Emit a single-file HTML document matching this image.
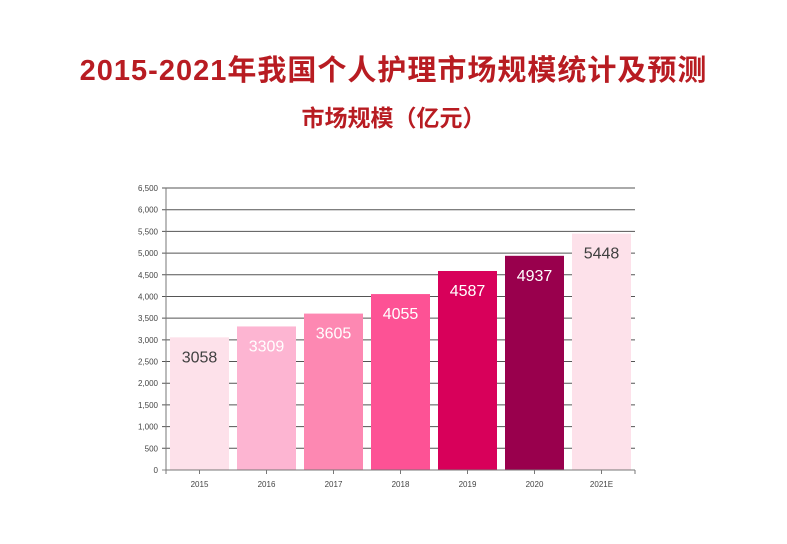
<!DOCTYPE html>
<html><head><meta charset="utf-8"><style>
body{margin:0;width:787px;height:544px;background:#fff;overflow:hidden;font-family:"Liberation Sans","Noto Sans CJK SC",sans-serif}
.t{position:absolute;left:0;width:787px;text-align:center;color:#b81c22;font-weight:bold}
</style></head><body>
<div class="t" style="top:47px;font-size:29px;letter-spacing:1px">2015-2021年我国个人护理市场规模统计及预测</div>
<div class="t" style="top:99px;font-size:23px">市场规模（亿元）</div>
<svg id="c" width="787" height="544" style="position:absolute;left:0;top:0"></svg>
<script>
const categories=["2015","2016","2017","2018","2019","2020","2021E"];
const values=[3058,3309,3605,4055,4587,4937,5448];
const colors=["#fde1ea","#fdb5d2","#fd88b2","#fd5295","#d8005a","#99004d","#fde1ea"];
const labelColors=["#404040","#fff","#fff","#fff","#fff","#fff","#404040"];
const yTicks=[0,500,1000,1500,2000,2500,3000,3500,4000,4500,5000,5500,6000,6500];
const X0=166,X1=635,Y0=470,Y1=188,YMAX=6500;
const band=(X1-X0)/categories.length;
const y=v=>Y0-(v/YMAX)*(Y0-Y1);
const x=i=>X0+i*band;
const svg=document.getElementById('c');
const NS="http://www.w3.org/2000/svg";
function mk(t,a){const e=document.createElementNS(NS,t);for(const k in a)e.setAttribute(k,a[k]);svg.appendChild(e);return e;}
yTicks.forEach(v=>{
 const g=mk('line',{x1:X0-4,x2:X1,y1:y(v),y2:y(v),stroke:v===0?'#888':'#555','stroke-width':1});
 
 
 const t=mk('text',{x:X0-8,y:y(v)+3,'text-anchor':'end','font-size':8,fill:'#444'});
 t.textContent=v.toLocaleString('en-US');
 
 
});
const ax=mk('line',{x1:X0,x2:X0,y1:Y1,y2:Y0+4,stroke:'#777'});


categories.forEach((c,i)=>{
 const r=mk('rect',{x:x(i)+4,y:y(values[i]),width:band-8,height:Y0-y(values[i]),fill:colors[i]});
 
 
 const l=mk('text',{x:x(i)+band/2,y:y(values[i])+25,'text-anchor':'middle','font-size':16,fill:labelColors[i]});
 l.textContent=values[i];
 
 
 const tk=mk('line',{x1:x(i)+band/2,x2:x(i)+band/2,y1:Y0,y2:Y0+4,stroke:'#777'});
 
 
 const t=mk('text',{x:x(i)+band/2,y:Y0+17,'text-anchor':'middle','font-size':8,fill:'#444'});
 t.textContent=c;
 
 
});
const xa=mk('line',{x1:X0,x2:X1,y1:Y0,y2:Y0,stroke:'#777'});


const et=mk('line',{x1:X1,x2:X1,y1:Y0,y2:Y0+4,stroke:'#777'});


</script>
</body></html>
